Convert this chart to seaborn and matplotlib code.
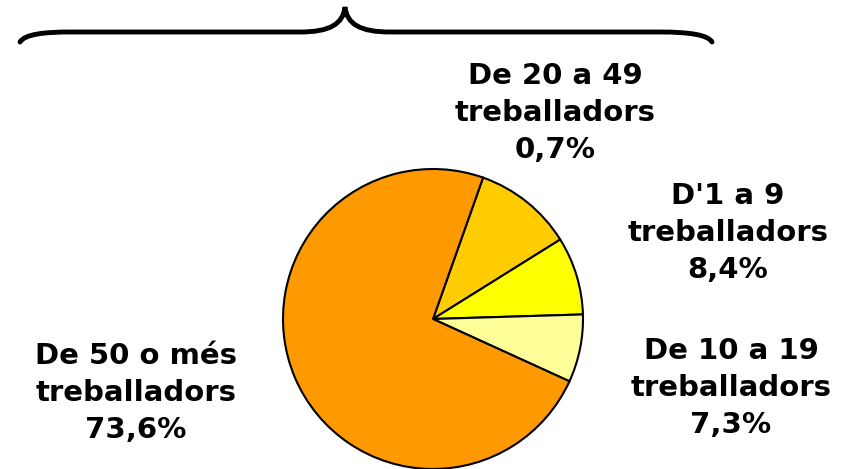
import numpy as np
import matplotlib
matplotlib.use("Agg")
import matplotlib.pyplot as plt
import seaborn as sns
from matplotlib.path import Path
from matplotlib.patches import PathPatch

# data (clockwise from the gold slice)
categories = ["De 20 a 49\ntreballadors", "D'1 a 9\ntreballadors",
              "De 10 a 19\ntreballadors", "De 50 o més\ntreballadors"]
shares = [10.7, 8.4, 7.3, 73.6]
pct_text = ["0,7%", "8,4%", "7,3%", "73,6%"]
colors = ["#FFCC00", "#FFFF00", "#FFFF99", "#FF9900"]

W, H = 844, 469

sns.set_style("white")
plt.rcParams['font.family'] = ['DejaVu Sans']

fig = plt.figure(figsize=(W / 100, H / 100), dpi=100)
ax = fig.add_axes([0, 0, 1, 1])

ax.pie(shares, colors=colors, startangle=70.5, counterclock=False,
       center=(433, H - 319), radius=150, frame=True,
       wedgeprops=dict(edgecolor="black", linewidth=1.5))

# label positions (pixel coords, from top)
label_pos = [(555, 113), (728, 233), (731, 388), (136, 393)]
for cat, pct, (x, y) in zip(categories, pct_text, label_pos):
    ax.text(x, H - y, cat + "\n" + pct, ha="center", va="center",
            fontsize=21, fontweight="bold", linespacing=1.4, color="black")

# curly brace on top
verts = [(20, 42), (25, 34), (45, 32), (70, 32), (300, 32),
         (330, 32), (343, 24), (345, 7),
         (347, 24), (360, 32), (390, 32), (660, 32),
         (690, 32), (708, 35), (712, 42)]
codes = [Path.MOVETO, Path.CURVE4, Path.CURVE4, Path.CURVE4, Path.LINETO,
         Path.CURVE4, Path.CURVE4, Path.CURVE4,
         Path.CURVE4, Path.CURVE4, Path.CURVE4, Path.LINETO,
         Path.CURVE4, Path.CURVE4, Path.CURVE4]
verts = [(x, H - y) for x, y in verts]
ax.add_patch(PathPatch(Path(verts, codes), facecolor="none",
                       edgecolor="black", linewidth=3.5, capstyle="round"))

ax.set_xlim(0, W)
ax.set_ylim(0, H)
ax.set_aspect("auto")
ax.axis("off")

fig.savefig("out.png", dpi=100, facecolor="white")
